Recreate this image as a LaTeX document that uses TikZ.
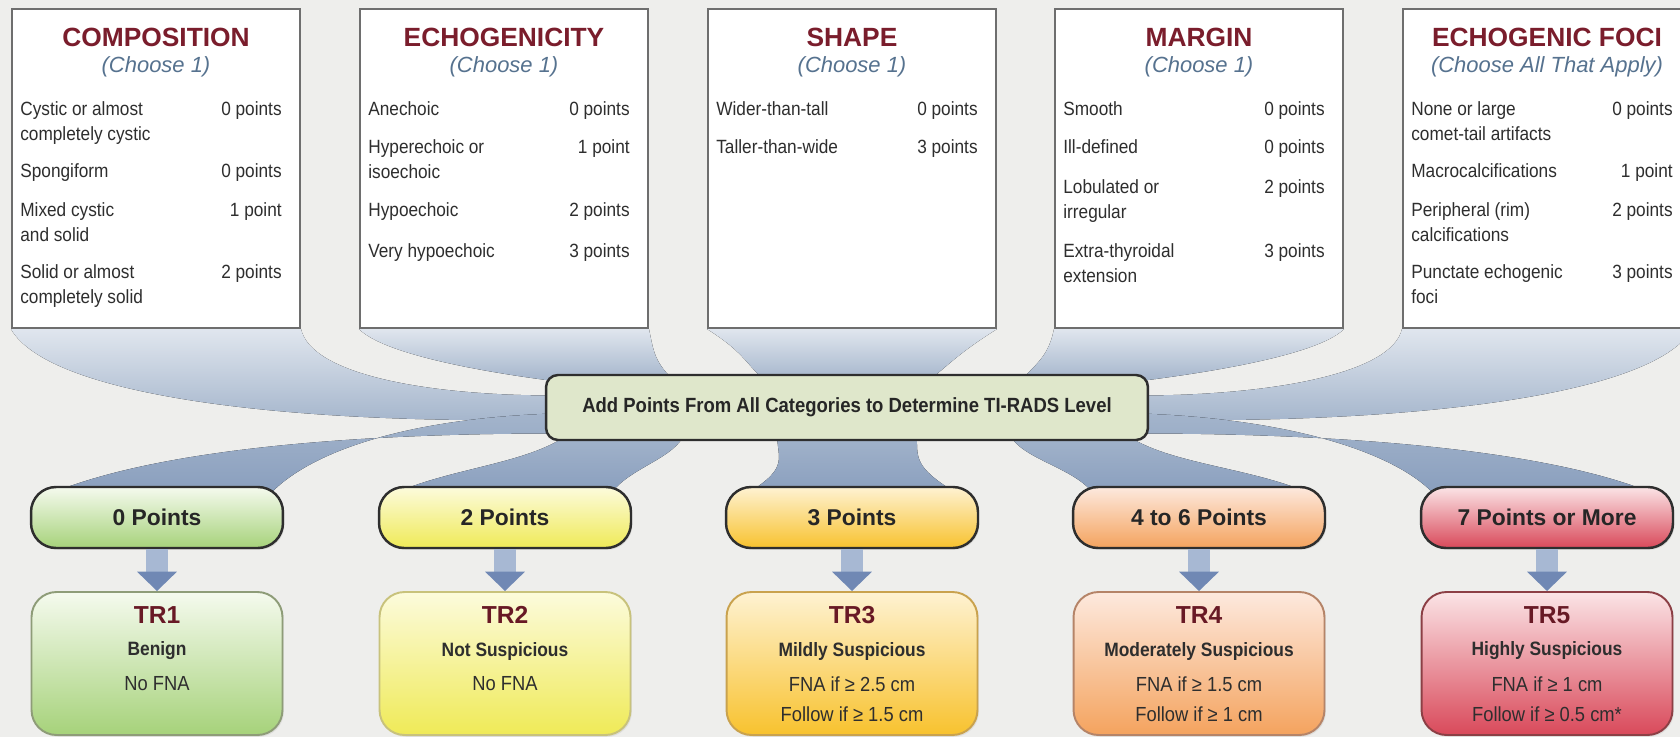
\documentclass[tikz,border=0pt]{standalone}
\usepackage{fontspec}
\setmainfont{Liberation Sans}
\newfontfamily\narrowsans{Liberation Sans}[FakeStretch=0.9]
\usetikzlibrary{arrows.meta,shadows}

\definecolor{pagegray}{HTML}{EEEEEC}
\definecolor{boxline}{HTML}{6E6E6E}
\definecolor{catred}{HTML}{7A1D2C}
\definecolor{choosebl}{HTML}{56728F}
\definecolor{itemtxt}{HTML}{2E2E2E}
\definecolor{sumfill}{HTML}{DFE7CB}
\definecolor{darkline}{HTML}{2E2E2E}
\definecolor{ribbonhi}{HTML}{E0E6EE}
\definecolor{ribbonlo}{HTML}{A3B4CB}
\definecolor{ribbondk}{HTML}{8A9FBE}
\definecolor{arrowbl}{HTML}{A7B8D3}
\definecolor{arrowdk}{HTML}{7088B4}
\definecolor{grtop}{HTML}{F5FAEE}
\definecolor{grbot}{HTML}{A6D27A}
\definecolor{grline}{HTML}{8E9C78}
\definecolor{yetop}{HTML}{FCFBDC}
\definecolor{yebot}{HTML}{EFEA57}
\definecolor{yeline}{HTML}{C8C27C}
\definecolor{ortop}{HTML}{FEF2D2}
\definecolor{orbot}{HTML}{F8C22E}
\definecolor{orline}{HTML}{C9A24E}
\definecolor{pktop}{HTML}{FDE9DE}
\definecolor{pkbot}{HTML}{F4A35E}
\definecolor{pkline}{HTML}{B58468}
\definecolor{rdtop}{HTML}{FBE4E6}
\definecolor{rdbot}{HTML}{D9495A}
\definecolor{rdline}{HTML}{8C3F45}

\pgfdeclarelayer{back}
\pgfsetlayers{back,main}

\begin{document}
\begin{tikzpicture}[x=0.02cm,y=-0.02cm,
   catbox/.style={draw=boxline,line width=1.2pt,fill=white,minimum width=5.76cm,minimum height=6.38cm,drop shadow={opacity=0.15,shadow xshift=0.6pt,shadow yshift=0.8pt}},
   cattitle/.style={text=catred,font=\fontsize{15}{18}\selectfont\bfseries},
   choose/.style={text=choosebl,font=\fontsize{12.5}{15}\selectfont\itshape},
   crit/.style={anchor=north west,inner sep=0pt,align=left,text=itemtxt,font=\narrowsans\fontsize{10.9}{14.5}\selectfont},
   pts/.style={anchor=north east,inner sep=0pt,text=itemtxt,font=\narrowsans\fontsize{10.9}{14.5}\selectfont},
   sumbox/.style={draw=darkline,line width=1.4pt,fill=sumfill,rounded corners=0.24cm,minimum width=12.04cm,minimum height=1.3cm,text=black!85,font=\narrowsans\fontsize{11.7}{14}\selectfont\bfseries},
   pill/.style={draw=darkline,line width=1.4pt,rounded corners=0.5cm,minimum width=5.04cm,minimum height=1.22cm,text=black!85,font=\fontsize{13}{15}\selectfont\bfseries,drop shadow={opacity=0.2,shadow xshift=0.8pt,shadow yshift=-1pt}},
   levelbox/.style={line width=1.1pt,rounded corners=0.5cm,minimum width=5.02cm,minimum height=2.86cm,drop shadow={opacity=0.15,shadow xshift=0.8pt,shadow yshift=-1pt}},
   trname/.style={text=catred!85!black,font=\fontsize{14}{16}\selectfont\bfseries},
   trrisk/.style={text=itemtxt,font=\narrowsans\fontsize{11}{13}\selectfont\bfseries},
   trrule/.style={text=itemtxt,font=\narrowsans\fontsize{11.6}{13}\selectfont},
   upribbon/.style={top color=ribbonhi,bottom color=ribbonlo},
   lowribbon/.style={top color=ribbonlo,bottom color=ribbondk},
   downarrow/.style={draw=arrowbl,line width=12pt,-{Triangle[width=22pt,length=11pt,color=arrowdk]}}]

   \useasboundingbox (0,0) rectangle (1680,737);

   \node[catbox] (comp) at (156,168.5) {};
   \node[catbox] (echo) at (504,168.5) {};
   \node[catbox] (shape) at (852,168.5) {};
   \node[catbox] (margin) at (1199,168.5) {};
   \node[catbox] (foci) at (1547,168.5) {};

   \node[cattitle] (compT) at (156,37) {COMPOSITION};
   \node[choose] (compC) at (156,67) {(Choose 1)};
   \node[cattitle] (echoT) at (504,37) {ECHOGENICITY};
   \node[choose] (echoC) at (504,67) {(Choose 1)};
   \node[cattitle] (shapeT) at (852,37) {SHAPE};
   \node[choose] (shapeC) at (852,67) {(Choose 1)};
   \node[cattitle] (marginT) at (1199,37) {MARGIN};
   \node[choose] (marginC) at (1199,67) {(Choose 1)};
   \node[cattitle] (fociT) at (1547,37) {ECHOGENIC FOCI};
   \node[choose] (fociC) at (1547,67) {(Choose All That Apply)};

   \node[crit] (comp1) at (20,101) {Cystic or almost\\completely cystic};
   \node[pts] (comp1p) at (282,101) {0 points};
   \node[crit] (comp2) at (20,163) {Spongiform};
   \node[pts] (comp2p) at (282,163) {0 points};
   \node[crit] (comp3) at (20,202) {Mixed cystic\\and solid};
   \node[pts] (comp3p) at (282,202) {1 point};
   \node[crit] (comp4) at (20,264) {Solid or almost\\completely solid};
   \node[pts] (comp4p) at (282,264) {2 points};

   \node[crit] (echo1) at (368,101) {Anechoic};
   \node[pts] (echo1p) at (630,101) {0 points};
   \node[crit] (echo2) at (368,139) {Hyperechoic or\\isoechoic};
   \node[pts] (echo2p) at (630,139) {1 point};
   \node[crit] (echo3) at (368,202) {Hypoechoic};
   \node[pts] (echo3p) at (630,202) {2 points};
   \node[crit] (echo4) at (368,243) {Very hypoechoic};
   \node[pts] (echo4p) at (630,243) {3 points};

   \node[crit] (shape1) at (716,101) {Wider-than-tall};
   \node[pts] (shape1p) at (978,101) {0 points};
   \node[crit] (shape2) at (716,139) {Taller-than-wide};
   \node[pts] (shape2p) at (978,139) {3 points};

   \node[crit] (margin1) at (1063,101) {Smooth};
   \node[pts] (margin1p) at (1325,101) {0 points};
   \node[crit] (margin2) at (1063,139) {Ill-defined};
   \node[pts] (margin2p) at (1325,139) {0 points};
   \node[crit] (margin3) at (1063,179) {Lobulated or\\irregular};
   \node[pts] (margin3p) at (1325,179) {2 points};
   \node[crit] (margin4) at (1063,243) {Extra-thyroidal\\extension};
   \node[pts] (margin4p) at (1325,243) {3 points};

   \node[crit] (foci1) at (1411,101) {None or large\\comet-tail artifacts};
   \node[pts] (foci1p) at (1673,101) {0 points};
   \node[crit] (foci2) at (1411,163) {Macrocalcifications};
   \node[pts] (foci2p) at (1673,163) {1 point};
   \node[crit] (foci3) at (1411,202) {Peripheral (rim)\\calcifications};
   \node[pts] (foci3p) at (1673,202) {2 points};
   \node[crit] (foci4) at (1411,264) {Punctate echogenic\\foci};
   \node[pts] (foci4p) at (1673,264) {3 points};

   \node[sumbox] (sum) at (847,407.5) {Add Points From All Categories to Determine TI-RADS Level};

   \node[pill,top color=grtop,bottom color=grbot] (p0) at (157,517.5) {0 Points};
   \node[pill,top color=yetop,bottom color=yebot] (p2) at (505,517.5) {2 Points};
   \node[pill,top color=ortop,bottom color=orbot] (p3) at (852,517.5) {3 Points};
   \node[pill,top color=pktop,bottom color=pkbot] (p4) at (1199,517.5) {4 to 6 Points};
   \node[pill,top color=rdtop,bottom color=rdbot] (p7) at (1547,517.5) {7 Points or More};

   \node[levelbox,draw=grline,top color=grtop,bottom color=grbot] (tr1) at (157,663.5) {};
   \node[levelbox,draw=yeline,top color=yetop,bottom color=yebot] (tr2) at (505,663.5) {};
   \node[levelbox,draw=orline,top color=ortop,bottom color=orbot] (tr3) at (852,663.5) {};
   \node[levelbox,draw=pkline,top color=pktop,bottom color=pkbot] (tr4) at (1199,663.5) {};
   \node[levelbox,draw=rdline,top color=rdtop,bottom color=rdbot] (tr5) at (1547,663.5) {};

   \node[trname] (tr1n) at (157,615) {TR1};
   \node[trrisk] (tr1r) at (157,651) {Benign};
   \node[trrule] (tr1a) at (157,684) {No FNA};
   \node[trname] (tr2n) at (505,615) {TR2};
   \node[trrisk] (tr2r) at (505,651) {Not Suspicious};
   \node[trrule] (tr2a) at (505,684) {No FNA};
   \node[trname] (tr3n) at (852,615) {TR3};
   \node[trrisk] (tr3r) at (852,651) {Mildly Suspicious};
   \node[trrule] (tr3a) at (852,684) {FNA if ≥ 2.5 cm};
   \node[trrule] (tr3b) at (852,714) {Follow if ≥ 1.5 cm};
   \node[trname] (tr4n) at (1199,615) {TR4};
   \node[trrisk] (tr4r) at (1199,651) {Moderately Suspicious};
   \node[trrule] (tr4a) at (1199,684) {FNA if ≥ 1.5 cm};
   \node[trrule] (tr4b) at (1199,714) {Follow if ≥ 1 cm};
   \node[trname] (tr5n) at (1547,615) {TR5};
   \node[trrisk] (tr5r) at (1547,651) {Highly Suspicious};
   \node[trrule] (tr5a) at (1547,684) {FNA if ≥ 1 cm};
   \node[trrule] (tr5b) at (1547,714) {Follow if ≥ 0.5 cm*};

   \draw[downarrow] (p0) -- (tr1);
   \draw[downarrow] (p2) -- (tr2);
   \draw[downarrow] (p3) -- (tr3);
   \draw[downarrow] (p4) -- (tr4);
   \draw[downarrow] (p7) -- (tr5);

   \begin{pgfonlayer}{back}
   \fill[pagegray] (0,0) rectangle (1680,737);

   \fill[upribbon] (comp.south west) .. controls +(40,70) and +(-250,5) .. ([shift={(10,12)}]sum.west)
      -- ([shift={(10,-12)}]sum.west) .. controls +(-130,0) and +(10,45) .. (comp.south east) -- cycle;
   \fill[upribbon] (echo.south west) .. controls +(30,30) and +(-40,-5) .. ([shift={(15,8)}]sum.north west)
      -- ([shift={(130,8)}]sum.north west) .. controls +(-20,-20) and +(5,25) .. (echo.south east) -- cycle;
   \fill[upribbon] (shape.south west) .. controls +(40,25) and +(-20,-15) .. ([shift={(-80,8)}]sum.north)
      -- ([shift={(80,8)}]sum.north) .. controls +(20,-15) and +(-40,25) .. (shape.south east) -- cycle;
   \fill[upribbon] (margin.south east) .. controls +(-30,30) and +(40,-5) .. ([shift={(-15,8)}]sum.north east)
      -- ([shift={(-130,8)}]sum.north east) .. controls +(20,-20) and +(-5,25) .. (margin.south west) -- cycle;
   \fill[upribbon] (foci.south east) .. controls +(-40,70) and +(250,5) .. ([shift={(-10,12)}]sum.east)
      -- ([shift={(-10,-12)}]sum.east) .. controls +(130,0) and +(-10,45) .. (foci.south west) -- cycle;

   \fill[lowribbon] ([shift={(10,26)}]sum.west) .. controls +(-220,0) and +(100,-40) .. ([shift={(25,6)}]p0.north west)
      -- ([shift={(-12,6)}]p0.north east) .. controls +(40,-40) and +(-150,5) .. ([shift={(10,6)}]sum.west) -- cycle;
   \fill[lowribbon] ([shift={(25,-8)}]sum.south west) .. controls +(-40,30) and +(60,-25) .. ([shift={(20,6)}]p2.north west)
      -- ([shift={(-20,6)}]p2.north east) .. controls +(20,-25) and +(-10,25) .. ([shift={(140,-8)}]sum.south west) -- cycle;
   \fill[lowribbon] ([shift={(-70,-8)}]sum.south) .. controls +(0,25) and +(40,-25) .. ([shift={(25,6)}]p3.north west)
      -- ([shift={(-25,6)}]p3.north east) .. controls +(-40,-25) and +(0,25) .. ([shift={(70,-8)}]sum.south) -- cycle;
   \fill[lowribbon] ([shift={(-25,-8)}]sum.south east) .. controls +(40,30) and +(-60,-25) .. ([shift={(-20,6)}]p4.north east)
      -- ([shift={(20,6)}]p4.north west) .. controls +(-20,-25) and +(10,25) .. ([shift={(-140,-8)}]sum.south east) -- cycle;
   \fill[lowribbon] ([shift={(-10,26)}]sum.east) .. controls +(220,0) and +(-100,-40) .. ([shift={(-25,6)}]p7.north east)
      -- ([shift={(12,6)}]p7.north west) .. controls +(-40,-40) and +(150,5) .. ([shift={(-10,6)}]sum.east) -- cycle;
   \end{pgfonlayer}
\end{tikzpicture}
\end{document}
